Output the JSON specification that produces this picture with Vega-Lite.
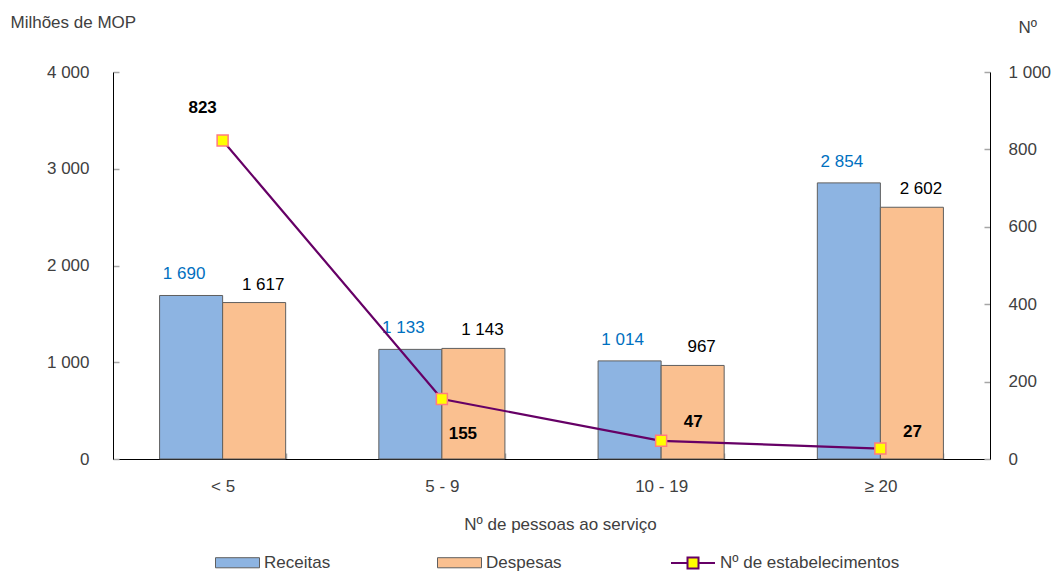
{
  "$schema": "https://vega.github.io/schema/vega-lite/v6.json",
  "width": 877,
  "height": 387,
  "autosize": {"type": "none"},
  "padding": {"left": 113, "top": 72, "right": 61, "bottom": 114},
  "background": "white",
  "config": {
    "view": {"stroke": null},
    "font": "Liberation Sans",
    "axis": {"grid": false, "domainColor": "#000000", "domainWidth": 1, "tickColor": "#A6A6A6", "tickWidth": 1.5, "labelColor": "#404040", "labelFontSize": 17, "titleColor": "#404040", "titleFontSize": 17, "titleFontWeight": "normal", "labelFont": "Liberation Sans", "titleFont": "Liberation Sans"},
    "legend": {"labelFont": "Liberation Sans", "labelFontSize": 17, "labelColor": "#404040"}
  },
  "datasets": {
    "bars": [
      {"cat": "< 5", "serie": "Receitas", "valor": 1690},
      {"cat": "< 5", "serie": "Despesas", "valor": 1617},
      {"cat": "5 - 9", "serie": "Receitas", "valor": 1133},
      {"cat": "5 - 9", "serie": "Despesas", "valor": 1143},
      {"cat": "10 - 19", "serie": "Receitas", "valor": 1014},
      {"cat": "10 - 19", "serie": "Despesas", "valor": 967},
      {"cat": "≥ 20", "serie": "Receitas", "valor": 2854},
      {"cat": "≥ 20", "serie": "Despesas", "valor": 2602}
    ],
    "linha": [
      {"cat": "< 5", "serie": "Nº de estabelecimentos", "n": 823},
      {"cat": "5 - 9", "serie": "Nº de estabelecimentos", "n": 155},
      {"cat": "10 - 19", "serie": "Nº de estabelecimentos", "n": 47},
      {"cat": "≥ 20", "serie": "Nº de estabelecimentos", "n": 27}
    ]
  },
  "encoding": {
    "x": {
      "field": "cat", "type": "nominal", "sort": ["< 5", "5 - 9", "10 - 19", "≥ 20"],
      "scale": {"paddingInner": 0.425, "paddingOuter": 0.2125},
      "axis": {"title": "Nº de pessoas ao serviço", "labelAngle": 0, "tickBand": "extent", "tickSize": -6, "labelPadding": 25, "titlePadding": 22, "titleX": 447}
    }
  },
  "layer": [
    {
      "data": {"name": "bars"},
      "transform": [{"calculate": "replace(format(datum.valor, ','), ',', ' ')", "as": "rotulo"}],
      "encoding": {
        "y": {"field": "valor", "type": "quantitative", "scale": {"domain": [0, 4000], "nice": false},
          "axis": {"title": "Milhões de MOP", "values": [0, 1000, 2000, 3000, 4000], "tickSize": -6, "labelPadding": 30, "labelExpr": "replace(datum.label, ',', ' ')", "titleAngle": 0, "titleAlign": "left", "titleBaseline": "alphabetic", "titleX": -103, "titleY": -45}},
        "xOffset": {"field": "serie", "type": "nominal", "sort": ["Receitas", "Despesas"]}
      },
      "layer": [
        {
          "mark": {"type": "bar", "stroke": "#5F5F5F", "strokeWidth": 1},
          "encoding": {
            "fill": {"field": "serie", "type": "nominal",
              "scale": {"domain": ["Receitas", "Despesas"], "range": ["#8DB4E2", "#FAC090"]},
              "legend": {
                "title": null, "orient": "none", "direction": "horizontal", "legendX": 102, "legendY": 468,
                "symbolType": "M-1,-0.23H1V0.23H-1Z", "symbolSize": 1936, "symbolStrokeColor": "#5F5F5F", "symbolStrokeWidth": 1,
                "columnPadding": 104, "labelOffset": 4, "labelLimit": 400
              }}
          }
        },
        {
          "transform": [{"filter": "datum.serie === 'Receitas'"}],
          "mark": {"type": "text", "fontSize": 17, "color": "#0070C0", "dx": -7, "dy": -16, "baseline": "alphabetic", "align": "center"},
          "encoding": {"text": {"field": "rotulo"}}
        },
        {
          "transform": [{"filter": "datum.serie === 'Despesas'"}],
          "mark": {"type": "text", "fontSize": 17, "color": "#000000", "dx": 9, "dy": -13, "baseline": "alphabetic", "align": "center"},
          "encoding": {"text": {"field": "rotulo"}}
        }
      ]
    },
    {
      "data": {"name": "linha"},
      "encoding": {
        "y": {"field": "n", "type": "quantitative", "scale": {"domain": [0, 1000], "nice": false},
          "axis": {"orient": "right", "title": "Nº", "values": [0, 200, 400, 600, 800, 1000], "tickSize": -6, "labelPadding": 24, "labelExpr": "replace(datum.label, ',', ' ')", "titleAngle": 0, "titleAlign": "left", "titleBaseline": "alphabetic", "titleX": 28, "titleY": -40}}
      },
      "layer": [
        {"mark": {"type": "line", "strokeWidth": 2.2},
          "encoding": {
            "stroke": {"field": "serie", "type": "nominal",
              "scale": {"domain": ["Nº de estabelecimentos"], "range": ["#660066"]},
              "legend": {
                "title": null, "orient": "none", "direction": "horizontal", "legendX": 557, "legendY": 468,
                "symbolType": "M-1,0H-0.25M0.25,0H1M-0.25,-0.25H0.25V0.25H-0.25Z", "symbolSize": 1936,
                "symbolFillColor": "#FFFF00", "symbolStrokeWidth": 2, "labelOffset": 4, "labelLimit": 400
              }}
          }},
        {"mark": {"type": "point", "shape": "square", "size": 121, "filled": true, "fill": "#FFFF00", "stroke": "#FF7C80", "strokeWidth": 1.5, "opacity": 1}},
        {
          "transform": [{"filter": "datum.cat === '< 5'"}],
          "mark": {"type": "text", "fontSize": 17, "fontWeight": "bold", "color": "#000000", "dx": -20, "dy": -27, "baseline": "alphabetic"},
          "encoding": {"text": {"field": "n"}}
        },
        {
          "transform": [{"filter": "datum.cat === '5 - 9'"}],
          "mark": {"type": "text", "fontSize": 17, "fontWeight": "bold", "color": "#000000", "dx": 21, "dy": 40, "baseline": "alphabetic"},
          "encoding": {"text": {"field": "n"}}
        },
        {
          "transform": [{"filter": "datum.cat === '10 - 19'"}],
          "mark": {"type": "text", "fontSize": 17, "fontWeight": "bold", "color": "#000000", "dx": 32, "dy": -14, "baseline": "alphabetic"},
          "encoding": {"text": {"field": "n"}}
        },
        {
          "transform": [{"filter": "datum.cat === '≥ 20'"}],
          "mark": {"type": "text", "fontSize": 17, "fontWeight": "bold", "color": "#000000", "dx": 32, "dy": -12, "baseline": "alphabetic"},
          "encoding": {"text": {"field": "n"}}
        }
      ]
    }
  ],
  "resolve": {"scale": {"y": "independent"}}
}
